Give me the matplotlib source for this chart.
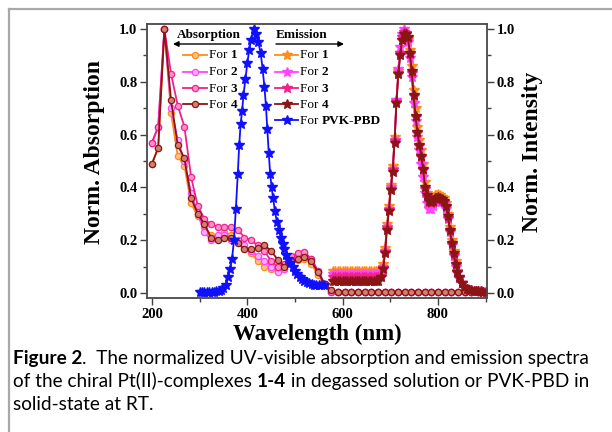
import matplotlib
matplotlib.use('Agg')
import matplotlib.pyplot as plt
from matplotlib.lines import Line2D
from matplotlib.ticker import MultipleLocator

SERIF = ['Liberation Serif', 'DejaVu Serif']
SANS = ['Lato', 'DejaVu Sans']

# absorption spectra (circles)
wl_abs = [200, 213, 226, 240, 254, 268, 282, 296, 310, 324, 338, 352, 366, 380,
          394, 408, 422, 436, 450, 464, 478, 492, 506, 520, 534, 548, 562, 576,
          590, 604, 618, 632, 646, 660, 674, 688, 702, 716, 730, 744, 758, 772,
          786, 800, 814, 828, 842, 856, 870, 884, 898]
tail = [0.005] * 23
abs1 = [0.49, 0.55, 1.0, 0.68, 0.52, 0.48, 0.34, 0.29, 0.25, 0.22, 0.21, 0.23, 0.22, 0.20,
        0.17, 0.15, 0.12, 0.10, 0.09, 0.085, 0.09, 0.11, 0.125, 0.13, 0.11, 0.07, 0.03, 0.01] + tail
abs2 = [0.57, 0.63, 1.0, 0.70, 0.58, 0.50, 0.38, 0.30, 0.23, 0.20, 0.22, 0.22, 0.20, 0.20,
        0.18, 0.16, 0.14, 0.12, 0.10, 0.08, 0.09, 0.13, 0.145, 0.15, 0.13, 0.08, 0.03, 0.005] + tail
abs3 = [0.57, 0.63, 1.0, 0.83, 0.71, 0.63, 0.44, 0.33, 0.28, 0.26, 0.25, 0.25, 0.25, 0.24,
        0.21, 0.20, 0.18, 0.16, 0.12, 0.10, 0.11, 0.14, 0.15, 0.155, 0.13, 0.085, 0.035, 0.005] + tail
abs4 = [0.49, 0.55, 1.0, 0.73, 0.56, 0.51, 0.36, 0.30, 0.26, 0.21, 0.20, 0.21, 0.21, 0.19,
        0.165, 0.165, 0.17, 0.18, 0.16, 0.125, 0.10, 0.12, 0.13, 0.135, 0.12, 0.08, 0.035, 0.01] + tail

# emission of PVK-PBD host (blue stars)
wl_pvk = [300, 305, 310, 315, 320, 325, 330, 335, 340, 345, 350, 355, 360, 364, 368, 372,
          376, 380, 383, 386, 389, 392, 396, 400, 404, 408, 413, 418, 423, 428, 432, 436,
          439, 442, 445, 448, 451, 454, 458, 462, 466, 470, 474, 478, 482, 486, 490, 495,
          500, 505, 510, 515, 520, 525, 530, 535, 540, 545, 550, 555, 560]
em_pvk = [0.005, 0.005, 0.005, 0.005, 0.005, 0.005, 0.005, 0.006, 0.008, 0.012, 0.02, 0.03,
          0.06, 0.09, 0.13, 0.20, 0.32, 0.45, 0.56, 0.64, 0.69, 0.75, 0.81, 0.87, 0.92, 0.96,
          1.0, 0.98, 0.95, 0.91, 0.85, 0.78, 0.71, 0.62, 0.53, 0.45, 0.40, 0.36, 0.31, 0.27,
          0.24, 0.21, 0.185, 0.165, 0.145, 0.13, 0.115, 0.10, 0.085, 0.072, 0.062, 0.053,
          0.046, 0.040, 0.036, 0.033, 0.031, 0.030, 0.030, 0.030, 0.030]

# emission of complexes 1-4 (stars)
wl_em = [580, 585, 590, 595, 600, 605, 610, 615, 620, 625, 630, 635, 640, 645, 650, 655,
         660, 665, 670, 675, 680, 685, 689, 693, 697, 701, 705, 709, 713, 717, 721, 725,
         729, 733, 737, 741, 745, 749, 753, 757, 761, 765, 769, 773, 777, 781, 785, 789,
         793, 797, 801, 805, 809, 813, 817, 821, 825, 829, 833, 837, 841, 845, 850, 855,
         860, 865, 870, 875, 880, 885, 890, 895, 900]
em_tail = [0.037, 0.022, 0.016, 0.012, 0.01, 0.009, 0.008, 0.007, 0.006, 0.005, 0.005]
em1 = [0.085] * 20 + [0.09, 0.11, 0.17, 0.26, 0.33, 0.41, 0.48, 0.59, 0.73, 0.84, 0.91, 0.96,
       0.98, 0.97, 0.96, 0.92, 0.86, 0.77, 0.70, 0.63, 0.58, 0.54, 0.49, 0.42, 0.38, 0.36,
       0.355, 0.36, 0.37, 0.37, 0.375, 0.37, 0.365, 0.36, 0.34, 0.30, 0.25, 0.20, 0.16,
       0.12, 0.085, 0.06] + em_tail
em2 = [0.072] * 20 + [0.075, 0.10, 0.16, 0.25, 0.32, 0.40, 0.47, 0.58, 0.73, 0.85, 0.93, 0.98,
       1.0, 0.98, 0.95, 0.89, 0.82, 0.72, 0.65, 0.59, 0.54, 0.49, 0.44, 0.38, 0.34, 0.32,
       0.32, 0.33, 0.345, 0.35, 0.355, 0.35, 0.345, 0.34, 0.32, 0.28, 0.23, 0.18, 0.14,
       0.10, 0.075, 0.055] + em_tail
em3 = [0.06] * 20 + [0.065, 0.095, 0.155, 0.245, 0.315, 0.395, 0.465, 0.575, 0.725, 0.835, 0.91, 0.97,
       0.99, 0.985, 0.965, 0.905, 0.835, 0.745, 0.665, 0.605, 0.555, 0.515, 0.465, 0.395,
       0.365, 0.345, 0.34, 0.345, 0.355, 0.36, 0.36, 0.355, 0.35, 0.345, 0.325, 0.285,
       0.235, 0.185, 0.145, 0.105, 0.078, 0.058] + em_tail
em4 = [0.045] * 20 + [0.06, 0.09, 0.15, 0.24, 0.31, 0.39, 0.46, 0.57, 0.72, 0.83, 0.90, 0.96,
       0.98, 0.98, 0.97, 0.91, 0.84, 0.75, 0.67, 0.61, 0.56, 0.52, 0.47, 0.40, 0.37, 0.35,
       0.345, 0.35, 0.36, 0.36, 0.365, 0.36, 0.355, 0.35, 0.33, 0.29, 0.24, 0.19, 0.15,
       0.11, 0.08, 0.06] + em_tail

colors = ['#ff8c1a', '#ff44ff', '#f0208c', '#8b1414']
faces = ['#ffc080', '#ffb0ff', '#ff90c8', '#d08070']
labels = ['1', '2', '3', '4']
blue = '#1010ff'

fig = plt.figure(figsize=(6.12, 4.32), dpi=100)
ax = fig.add_axes([147 / 612, 1 - 298 / 432, 340 / 612, 274 / 432])
ax2 = ax.twinx()

for y, c, f in zip([abs1, abs2, abs3, abs4], colors, faces):
    ax.plot(wl_abs, y, '-o', color=c, mfc=f, mec=c, ms=4.5, mew=0.9, lw=1.3)
ax2.plot(wl_pvk, em_pvk, '-*', color=blue, ms=7.5, lw=1.3)
for y, c in zip([em1, em2, em3, em4], colors):
    ax2.plot(wl_em, y, '-*', color=c, ms=7.5, lw=1.3)

for a in (ax, ax2):
    a.set_xlim(189.5, 903)
    a.set_ylim(-0.019, 1.019)
    a.yaxis.set_major_locator(MultipleLocator(0.2))
    a.yaxis.set_minor_locator(MultipleLocator(0.1))
    a.tick_params(which='both', direction='out', color='#404040', width=1)
    a.tick_params(which='major', length=5, pad=2, labelsize=10.5)
    a.tick_params(which='minor', length=3)
    for sp in a.spines.values():
        sp.set_color('#505050')
        sp.set_linewidth(1.1)
ax.xaxis.set_major_locator(MultipleLocator(200))
ax.xaxis.set_minor_locator(MultipleLocator(100))
ax.tick_params(axis='x', which='both', top=False)
ax.set_xticks([200, 400, 600, 800])
ax.set_xticklabels(['200', '400', '600', '800'], family=SERIF, fontweight='bold', fontsize=10.5)
ax.set_yticks([0, 0.2, 0.4, 0.6, 0.8, 1.0])
ax.set_yticklabels(['0.0', '0.2', '0.4', '0.6', '0.8', '1.0'], family=SERIF, fontweight='bold', fontsize=10.5)
ax2.set_yticks([0, 0.2, 0.4, 0.6, 0.8, 1.0])
ax2.set_yticklabels(['0.0', '0.2', '0.4', '0.6', '0.8', '1.0'], family=SERIF, fontweight='bold', fontsize=10.5)

ax.set_ylabel('Norm. Absorption', family=SERIF, fontweight='bold', fontsize=17, va='center')
ax.yaxis.set_label_coords(-0.153, 0.533)
ax2.set_ylabel('Norm. Intensity', family=SERIF, fontweight='bold', fontsize=17, va='center', rotation=90)
ax2.yaxis.set_label_coords(1.135, 0.533)
ax.set_xlabel('Wavelength (nm)', family=SERIF, fontweight='bold', fontsize=16.5, va='center')
ax.xaxis.set_label_coords(0.5, -0.132)

r = fig.canvas.get_renderer()


def advance(s, size, weight, family):
    t1 = fig.text(0, 0, s + '|', fontsize=size, fontweight=weight, family=family)
    t2 = fig.text(0, 0, '|', fontsize=size, fontweight=weight, family=family)
    w = t1.get_window_extent(r).width - t2.get_window_extent(r).width
    t1.remove()
    t2.remove()
    return w


def rich(px, py, parts, size, family):
    # px, py in pixels from top-left, py = baseline
    for s, w in parts:
        fig.text(px / 612, 1 - py / 432, s, fontsize=size, fontweight=w,
                 family=family, va='baseline', ha='left')
        px += advance(s, size, w, family)


def ax_xy(px, py):
    return (px - 147) / 340, (298 - py) / 274


# legend headers with arrows
ax.text(*ax_xy(209, 35), 'Absorption', transform=ax.transAxes, ha='center', va='center',
        family=SERIF, fontweight='bold', fontsize=9.5)
ax.annotate('', xy=ax_xy(173, 44), xytext=ax_xy(241, 44), xycoords='axes fraction',
            arrowprops=dict(arrowstyle='-|>', color='k', lw=1, mutation_scale=8, shrinkA=0, shrinkB=0))
ax.text(*ax_xy(302, 35), 'Emission', transform=ax.transAxes, ha='center', va='center',
        family=SERIF, fontweight='bold', fontsize=9.5)
ax.annotate('', xy=ax_xy(344, 44), xytext=ax_xy(276, 44), xycoords='axes fraction',
            arrowprops=dict(arrowstyle='-|>', color='k', lw=1, mutation_scale=8, shrinkA=0, shrinkB=0))

rows = [55, 71.7, 88.3, 104.3, 120]
for i, (c, f, lab) in enumerate(zip(colors, faces, labels)):
    x0, y0 = ax_xy(183, rows[i])
    x1, _ = ax_xy(207, rows[i])
    ax.plot([x0, (x0 + x1) / 2, x1], [y0] * 3, '-o', color=c, mfc=f, mec=c, ms=4.5, mew=0.9,
            lw=1.3, markevery=[1], transform=ax.transAxes, clip_on=False)
    rich(209, rows[i] + 3.5, [('For ', 'normal'), (lab, 'bold')], 9.5, SERIF)
    x0, y0 = ax_xy(275, rows[i])
    x1, _ = ax_xy(298, rows[i])
    ax.plot([x0, (x0 + x1) / 2, x1], [y0] * 3, '-*', color=c, ms=7.5, lw=1.3,
            markevery=[1], transform=ax.transAxes, clip_on=False)
    rich(300, rows[i] + 3.5, [('For ', 'normal'), (lab, 'bold')], 9.5, SERIF)
x0, y0 = ax_xy(275, rows[4])
x1, _ = ax_xy(298, rows[4])
ax.plot([x0, (x0 + x1) / 2, x1], [y0] * 3, '-*', color=blue, ms=7.5, lw=1.3,
        markevery=[1], transform=ax.transAxes, clip_on=False)
rich(300, rows[4] + 3.5, [('For ', 'normal'), ('PVK-PBD', 'bold')], 9.5, SERIF)

# caption
cap = 13.7
rich(13, 364, [('Figure 2', 'bold'), ('.  The normalized UV-visible absorption and emission spectra', 'normal')], cap, SANS)
rich(13, 387, [('of the chiral Pt(II)-complexes ', 'normal'), ('1-4', 'bold'),
               (' in degassed solution or PVK-PBD in', 'normal')], cap, SANS)
rich(13, 410, [('solid-state at RT.', 'normal')], cap, SANS)

# grey frame of the figure box
fig.add_artist(Line2D([8.5 / 612, 8.5 / 612], [0, 1 - 8.5 / 432], transform=fig.transFigure,
                      color='#a8a8a8', lw=1.6))
fig.add_artist(Line2D([8.5 / 612, 1], [1 - 8.5 / 432, 1 - 8.5 / 432], transform=fig.transFigure,
                      color='#a8a8a8', lw=1.6))

fig.savefig('out.png', dpi=100)
